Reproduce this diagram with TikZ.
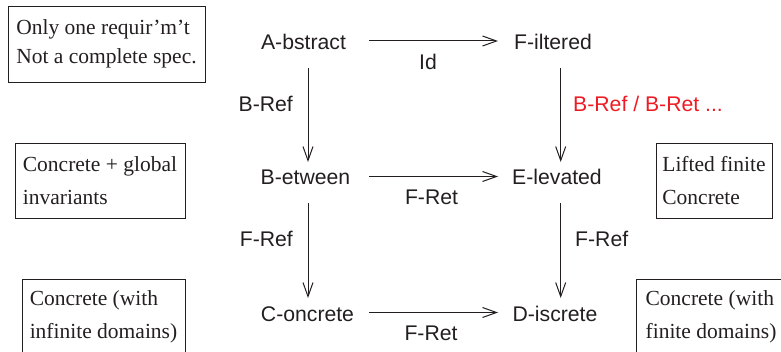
\documentclass[tikz,border=0pt]{standalone}
\usepackage{fontspec}
\setmainfont{Liberation Serif}
\newfontfamily\sansf{Liberation Sans}
\usetikzlibrary{arrows.meta,calc}
\definecolor{ink}{RGB}{35,31,32}
\definecolor{redlbl}{RGB}{237,28,36}
\begin{document}
\begin{tikzpicture}[x=1pt,y=-1pt,
  lvl/.style={font=\sansf\fontsize{21.2}{25}\selectfont, text=ink, inner sep=0pt, anchor=base},
  note/.style={draw=ink, line width=0.9pt, text=ink, inner sep=0pt, align=left, font=\fontsize{21.5}{33}\selectfont},
  arr/.style={draw=ink, line width=1pt, -{Straight Barb[length=14pt,width=10pt,line width=1pt]}}
]
\useasboundingbox (0,0) rectangle (781,352);
\clip (0,0) rectangle (781,352);

% levels
\node[lvl] (A) at (303.5,50) {A-bstract};
\node[lvl] (F) at (553,50) {F-iltered};
\node[lvl] (B) at (305.5,185) {B-etween};
\node[lvl] (E) at (557,185) {E-levated};
\node[lvl] (C) at (307.5,321) {C-oncrete};
\node[lvl] (D) at (555,321) {D-iscrete};

% guide coordinates
\coordinate (cL) at (308,0);
\coordinate (cR) at (560.7,0);
\coordinate (hL) at (369,0);
\coordinate (hR) at (498,0);

% horizontal arrows
\draw[arr] ($(A.base -| hL)+(0,-9)$) -- ($(F.base -| hR)+(0,-9)$);
\draw[arr] ($(B.base -| hL)+(0,-8.5)$) -- ($(E.base -| hR)+(0,-8.5)$);
\draw[arr] ($(C.base -| hL)+(0,-8.5)$) -- ($(D.base -| hR)+(0,-8.5)$);

% vertical arrows
\draw[arr] ($(A.base -| cL)+(0,18)$) -- ($(B.base -| cL)+(0,-23)$);
\draw[arr] ($(B.base -| cL)+(0,18)$) -- ($(C.base -| cL)+(0,-23)$);
\draw[arr] ($(F.base -| cR)+(0,18)$) -- ($(E.base -| cR)+(0,-23)$);
\draw[arr] ($(E.base -| cR)+(0,18)$) -- ($(D.base -| cR)+(0,-23)$);

% edge labels
\node[lvl] (id) at (428,70) {Id};
\node[lvl] (fret1) at (431.5,205) {F-Ret};
\node[lvl] (fret2) at (431,341) {F-Ret};
\node[lvl, anchor=base east] (bref) at (293,112) {B-Ref};
\node[lvl, anchor=base west, text=redlbl] (bret) at (573,112) {B-Ref / B-Ret ...};
\node[lvl, anchor=base east] (fref1) at (293,247) {F-Ref};
\node[lvl, anchor=base west] (fref2) at (575,247) {F-Ref};

% notes
\node[note, minimum width=197pt, minimum height=76pt] (n1) at (106.5,44) {Only one requir’m’t\\[-4pt]Not a complete spec.};
\node[note, minimum width=170pt, minimum height=75pt] (n2) at (100,180.5) {Concrete + global\\invariants};
\node[note, minimum width=116pt, minimum height=75pt] (n3) at (714,180.5) {Lifted finite\\Concrete};
\node[note, minimum width=163pt, minimum height=76pt] (n4) at (103.5,317) {Concrete (with\\infinite domains)};
\node[note, minimum width=150pt, minimum height=76pt] (n5) at (711,317) {Concrete (with\\finite domains)};
\end{tikzpicture}
\end{document}
